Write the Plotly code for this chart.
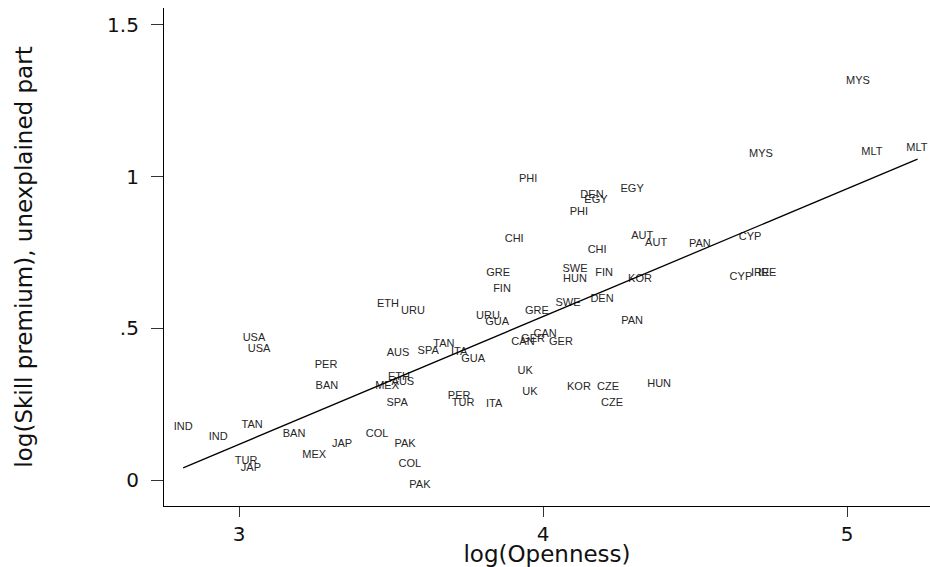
import plotly.graph_objects as go

# Country labels (each country appears twice)
labels = ["MYS", "MYS", "MLT", "MLT", "PHI", "DEN", "EGY", "EGY", "PHI", "CHI",
          "AUT", "AUT", "PAN", "CYP", "CHI", "GRE", "SWE", "HUN", "FIN", "KOR",
          "CYP", "IRE", "IRE", "FIN", "ETH", "URU", "GRE", "SWE", "DEN", "URU",
          "GUA", "PAN", "CAN", "CAN", "GER", "GER", "USA", "USA", "TAN", "SPA",
          "ITA", "AUS", "GUA", "PER", "UK", "ETH", "AUS", "MEX", "BAN", "KOR",
          "CZE", "HUN", "UK", "PER", "TUR", "SPA", "ITA", "CZE", "IND", "TAN",
          "IND", "BAN", "COL", "PAK", "JAP", "MEX", "TUR", "JAP", "COL", "PAK"]

log_openness = [5.036, 4.717, 5.082, 5.230, 3.951, 4.161, 4.174, 4.293, 4.118, 3.905,
                4.326, 4.372, 4.516, 4.681, 4.178, 3.852, 4.105, 4.105, 4.201, 4.319,
                4.651, 4.714, 4.737, 3.865, 3.490, 3.572, 3.980, 4.082, 4.194, 3.819,
                3.849, 4.293, 4.007, 3.934, 3.967, 4.059, 3.049, 3.066, 3.674, 3.622,
                3.724, 3.523, 3.770, 3.286, 3.941, 3.526, 3.539, 3.487, 3.289, 4.118,
                4.214, 4.382, 3.957, 3.724, 3.737, 3.520, 3.839, 4.227, 2.816, 3.043,
                2.931, 3.181, 3.454, 3.546, 3.339, 3.247, 3.023, 3.039, 3.562, 3.595]

log_skill_premium = [1.316, 1.075, 1.081, 1.095, 0.992, 0.940, 0.923, 0.959, 0.884, 0.795,
                     0.804, 0.781, 0.778, 0.801, 0.758, 0.682, 0.696, 0.663, 0.682, 0.663,
                     0.669, 0.682, 0.682, 0.630, 0.580, 0.557, 0.557, 0.584, 0.597, 0.541,
                     0.521, 0.524, 0.481, 0.455, 0.465, 0.455, 0.468, 0.432, 0.448, 0.425,
                     0.422, 0.419, 0.399, 0.379, 0.359, 0.340, 0.323, 0.310, 0.310, 0.307,
                     0.307, 0.317, 0.290, 0.277, 0.254, 0.254, 0.251, 0.254, 0.175, 0.181,
                     0.142, 0.152, 0.152, 0.119, 0.119, 0.082, 0.063, 0.040, 0.053, -0.016]

# Fitted regression line (endpoints at data extremes)
fit_x = [2.816, 5.232]
fit_y = [0.040, 1.058]

y_tickvals = [0, 0.5, 1, 1.5]
y_ticktext = ["0", ".5", "1", "1.5"]
x_tickvals = [3, 4, 5]
x_ticktext = ["3", "4", "5"]

fig = go.Figure()
fig.add_trace(go.Scatter(
    x=log_openness, y=log_skill_premium, mode="text", text=labels,
    textposition="middle center", cliponaxis=False,
    textfont=dict(family="Liberation Sans, Arial, sans-serif", size=11, color="#262626"),
    showlegend=False, hoverinfo="skip"))
fig.add_trace(go.Scatter(
    x=fit_x, y=fit_y, mode="lines", line=dict(color="black", width=1.3),
    showlegend=False, hoverinfo="skip", cliponaxis=False))

tick_font = dict(family="DejaVu Sans, sans-serif", size=20, color="#111")
title_font = dict(family="DejaVu Sans, sans-serif", size=23, color="#111")

fig.update_layout(
    width=930, height=567,
    margin=dict(l=164, r=0, t=8, b=61),
    paper_bgcolor="white", plot_bgcolor="white",
    xaxis=dict(
        range=[2.753, 5.273], tickvals=x_tickvals, ticktext=x_ticktext,
        showgrid=False, zeroline=False, showline=True, linecolor="black", linewidth=1.2,
        ticks="outside", ticklen=10, tickcolor="#333", tickwidth=1.2,
        tickfont=tick_font, automargin=False,
        title=dict(text="log(Openness)", font=title_font, standoff=0),
    ),
    yaxis=dict(
        range=[-0.0857, 1.556], tickvals=y_tickvals, ticktext=y_ticktext,
        showgrid=False, zeroline=False, showline=True, linecolor="black", linewidth=1.2,
        ticks="outside", ticklen=12, tickcolor="#333", tickwidth=1.2,
        tickfont=tick_font, ticklabelstandoff=8, automargin=False,
        title=dict(text="log(Skill premium), unexplained part", font=title_font, standoff=68),
    ),
)

fig.write_html("out.html",
               config={"displayModeBar": False},
               post_script="document.body.style.margin='0px';document.body.style.overflow='hidden';")
